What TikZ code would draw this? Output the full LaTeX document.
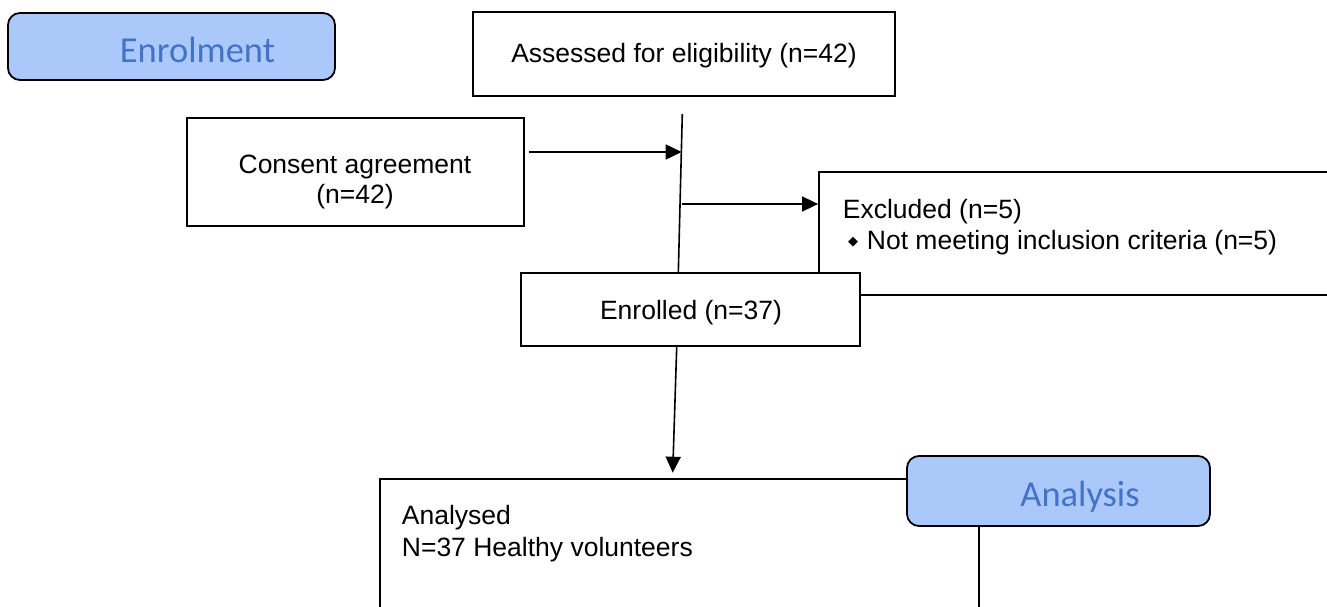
\documentclass[tikz,border=0pt]{standalone}
\usepackage{fontspec}
\setmainfont{Liberation Sans}
\newfontfamily\calib{Carlito}
\newfontfamily\dejavu{DejaVu Sans}
\usetikzlibrary{arrows.meta,calc}
\definecolor{phasefill}{RGB}{170,200,250}
\definecolor{phasetext}{RGB}{68,114,196}
\begin{document}
\begin{tikzpicture}[x=1pt,y=-1pt,
  box/.style={draw, line width=1.8pt, fill=white, inner sep=0pt},
  phase/.style={draw, line width=1.8pt, fill=phasefill, rounded corners=12pt, inner sep=0pt},
  phasetxt/.style={text=phasetext, font=\calib\fontsize{36.5}{40}\selectfont, inner sep=0pt, anchor=base},
  txt/.style={font=\fontsize{26.5}{32}\selectfont, inner sep=0pt},
  conn/.style={line width=1.6pt},
  arr/.style={line width=1.6pt, -{Triangle[length=16pt,width=15pt]}}]
\useasboundingbox (0,0) rectangle (1327,607);
\clip (0,0) rectangle (1327,607);

% Enrolment phase label
\node[phase, minimum width=327pt, minimum height=67pt] (enrol) at (171.5,46.5) {};
\node[phasetxt] (enroltxt) at (197.5,62.7) {Enrolment};

% Assessed
\node[box, minimum width=422pt, minimum height=84pt] (assess) at (684,54) {};
\node[txt, anchor=base] (assesstxt) at (684,63) {Assessed for eligibility (n=42)};

% Consent
\node[box, minimum width=336.7pt, minimum height=107.4pt] (consent) at (355.6,172) {};
\node[txt, anchor=base] (consent1) at (355,173.3) {Consent agreement};
\node[txt, anchor=base] (consent2) at (355,203) {(n=42)};

% Excluded (extends past right edge)
\node[box, minimum width=521pt, minimum height=122.5pt] (excl) at (1079.5,233.5) {};
\node[txt, anchor=base west] (excltxt) at (842.7,218.3) {Excluded (n=5)};
\node[font=\dejavu\fontsize{13}{14}\selectfont, inner sep=0pt] (bullet) at (853,241.7) {◆};
\node[txt, anchor=base west] (excltxt2) at (866.7,249.3) {Not meeting inclusion criteria (n=5)};

% Vertical flow line and side arrows
\coordinate (vtop) at (682.3,114);
\coordinate (vbot) at (678.3,273);
\draw[conn] (vtop) -- (vbot);
\coordinate (j1) at (681.7,152);
\coordinate (j2) at (682.3,204);
\draw[arr] ($(consent.east |- j1)+(3.7,0)$) -- (j1);
\draw[arr] (j2) -- (excl.west |- j2);

% Enrolled
\node[box, minimum width=339.3pt, minimum height=73pt] (enrolled) at (690.3,309.5) {};
\node[txt, anchor=base] (enrolledtxt) at (691,319.3) {Enrolled (n=37)};

% Analysed (extends past bottom edge)
\node[box, minimum width=599pt, minimum height=162pt, anchor=north west] (analysed) at (379,478) {};
\node[txt, anchor=base west] (an1) at (401.7,524.3) {Analysed};
\node[txt, anchor=base west] (an2) at (401.7,556.7) {N=37 Healthy volunteers};

% Down arrow
\coordinate (d1) at (676.7,346);
\coordinate (d2) at (672.7,472.7);
\draw[arr] (d1 |- enrolled.south) -- (d2);

% Analysis phase label
\node[phase, minimum width=303pt, minimum height=70pt] (analysis) at (1058.5,491) {};
\node[phasetxt] (analysistxt) at (1080,506.7) {Analysis};
\end{tikzpicture}
\end{document}
